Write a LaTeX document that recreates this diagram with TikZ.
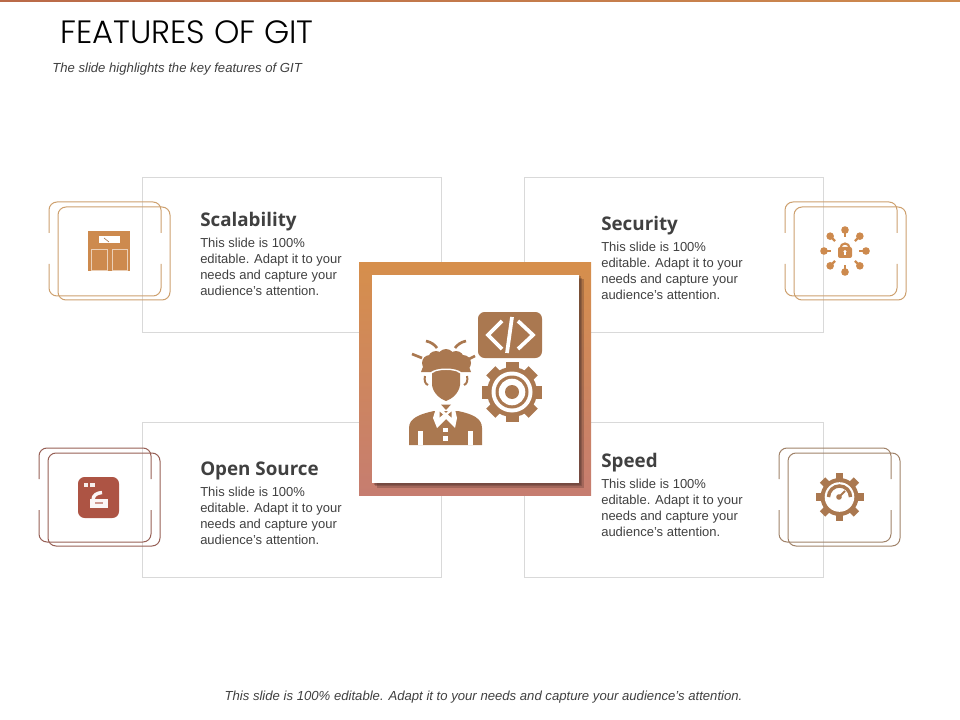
\documentclass[tikz,border=0pt]{standalone}
\usepackage{fontspec}
\setmainfont{Liberation Sans}
\newfontfamily\titleFont[UprightFont={* Light}]{Poppins}
\newfontfamily\headFont{Open Sans}
\usetikzlibrary{positioning}
\definecolor{cardGrey}{RGB}{217,217,217}
\definecolor{bodyGrey}{RGB}{64,64,64}
\definecolor{orangeIcon}{RGB}{205,138,78}
\definecolor{redIcon}{RGB}{173,84,68}
\definecolor{brownIcon}{RGB}{170,120,80}
\definecolor{tanFrame}{RGB}{205,160,110}
\definecolor{redFrame}{RGB}{150,95,85}
\definecolor{brownFrame}{RGB}{160,130,105}
\definecolor{frameTop}{RGB}{214,143,76}
\definecolor{frameBottom}{RGB}{198,125,112}
\definecolor{shadowBrown}{RGB}{70,45,40}
\tikzstyle{cardBox} = [rectangle, draw=cardGrey, line width=0.6pt, minimum width=224.25pt, minimum height=116.25pt]
\tikzstyle{headText} = [inner sep=0pt, anchor=west, text=bodyGrey, text height=10pt, text depth=3.5pt, font=\headFont\bfseries\fontsize{14.1}{16}\selectfont]
\tikzstyle{bodyText} = [inner sep=0pt, align=left, text=bodyGrey, font=\fontsize{9.75}{12}\selectfont]
\tikzstyle{noteText} = [inner sep=0pt, text=bodyGrey, font=\itshape\fontsize{9.85}{12}\selectfont]
\tikzstyle{iconLine} = [line width=0.75pt, rounded corners=6pt]
\tikzstyle{whiteLine} = [draw=white, line width=2.8pt]
\tikzstyle{softShadow} = [fill=shadowBrown, opacity=0.28]
\newcommand{\iconFrame}[3]{
  \draw [iconLine, #3] (#1,#2+31) -- (#1,#2) -- (#1+112,#2) -- (#1+112,#2+31);
  \draw [iconLine, #3] (#1+112,#2+62) -- (#1+112,#2+94) -- (#1,#2+94) -- (#1,#2+62);
  \draw [iconLine, #3] (#1+9,#2+5) rectangle (#1+121,#2+98);
}
\newcommand{\gearShape}[6]{
  \foreach \a in {0,45,...,315} {
    \fill [#6, rotate around={\a:(#1,#2)}] (#1-#5,#2-#3) rectangle (#1+#5,#2);
  }
  \fill [#6] (#1,#2) circle (#4);
}
\newcommand{\bodyLines}{This slide is 100\%\\editable. Adapt it to your\\needs and capture your\\audience's attention.}
\begin{document}
\begin{tikzpicture}[x=0.75pt, y=-0.75pt]
  \useasboundingbox (0,0) rectangle (960,720);
  \shade [left color=redIcon!60!orangeIcon, right color=orangeIcon] (0,0) rectangle (960,2);

  \node (scalabilityBox) [cardBox] at (291.5,254.5) {};
  \node (securityBox) [cardBox] at (674,254.5) {};
  \node (openBox) [cardBox] at (291.5,499.5) {};
  \node (speedBox) [cardBox] at (674,499.5) {};

  \node (title) [inner sep=0pt, anchor=west, font=\titleFont\fontsize{24.2}{26}\selectfont] at (60,32) {FEATURES OF GIT};
  \node (subtitle) [noteText, anchor=west] at (52,69) {The slide highlights the key features of GIT};
  \node (footer) [noteText] at (483.5,697) {This slide is 100\% editable. Adapt it to your needs and capture your audience's attention.};

  \node (scalabilityHead) [headText] at (200,222) {Scalability};
  \node (scalabilityText) [bodyText, below=5pt of scalabilityHead.south west, anchor=north west] {\bodyLines};
  \node (securityHead) [headText] at (601,226) {Security};
  \node (securityText) [bodyText, below=5pt of securityHead.south west, anchor=north west] {\bodyLines};
  \node (openHead) [headText] at (200,471) {Open Source};
  \node (openText) [bodyText, below=5pt of openHead.south west, anchor=north west] {\bodyLines};
  \node (speedHead) [headText] at (601,463) {Speed};
  \node (speedText) [bodyText, below=5pt of speedHead.south west, anchor=north west] {\bodyLines};

  \iconFrame{49}{202}{tanFrame}
  \iconFrame{39}{448}{redFrame}
  \iconFrame{785}{202}{tanFrame}
  \iconFrame{779}{448}{brownFrame}

  \fill [orangeIcon] (88,231) rectangle (130,271);
  \fill [white] (99,236) rectangle (120,243);
  \draw [brownIcon, line width=0.5pt] (104,238) -- (109,242);
  \draw [white!60!orangeIcon, line width=0.6pt] (91,249) rectangle (107,270);
  \draw [white!60!orangeIcon, line width=0.6pt] (112,249) rectangle (127,270);

  \fill [redIcon, rounded corners=5pt] (78,477) rectangle (119,518);
  \fill [white!90!redIcon] (84,483) rectangle (88,487);
  \fill [white!90!redIcon] (90,483) rectangle (95,487);
  \fill [white!95!redIcon] (90,499) -- (108,499) -- (108,508) -- (90,508) -- cycle;
  \draw [white!95!redIcon, line width=2.6pt] (93,500) .. controls (93,495) and (97,493) .. (102,492.5);
  \draw [redIcon!60!white, line width=1.2pt] (95,503) -- (103,503);

  \foreach \a in {0,45,...,315} {
    \fill [orangeIcon, rotate around={\a:(845,251)}] (866,251) circle (3.8);
    \draw [orangeIcon, line width=1.8pt, rotate around={\a:(845,251)}] (866,251) -- (859,251);
  }
  \fill [orangeIcon, rounded corners=1.5pt] (838,247) rectangle (852,258);
  \draw [orangeIcon, line width=1.6pt] (840.5,248) arc (180:360:4.5);
  \fill [white] (845,251.5) circle (1.6);
  \fill [white] (844.2,251.5) rectangle (845.8,255.5);

  \gearShape{839.5}{497}{24}{19}{3.8}{brownIcon}
  \fill [white] (839.5,497) circle (14.8);
  \draw [brownIcon, line width=2.6pt] (828.5,497) arc (180:360:11);
  \fill [brownIcon] (839,497) circle (2.8);
  \draw [brownIcon, line width=1.4pt] (839,497) -- (845,491);

  \node (mainFrame) [rectangle, minimum size=174pt, inner sep=0pt, top color=frameTop, bottom color=frameBottom] at (475,379) {};
  \fill [softShadow] (373.5,276.5) rectangle (580.5,484.5);
  \fill [softShadow] (375,278) rectangle (582,486);
  \fill [softShadow] (376.5,279.5) rectangle (583.5,487.5);
  \node (mainPanel) [rectangle, fill=white, minimum width=155.25pt, minimum height=156pt, inner sep=0pt] at (475.5,379) {};

  \fill [brownIcon, rounded corners=5pt] (478,312) rectangle (542,358);
  \draw [whiteLine] (502,321) -- (488,335) -- (502,349);
  \draw [whiteLine] (518,321) -- (533,335) -- (518,349);
  \draw [whiteLine] (512,317) -- (507,353);

  \gearShape{512}{392}{30}{25}{6.5}{brownIcon}
  \fill [white] (512,392) circle (20.5);
  \fill [brownIcon] (512,392) circle (16.5);
  \fill [white] (512,392) circle (13.3);
  \fill [brownIcon] (512,392) circle (7);

  \fill [brownIcon] (409,445) -- (409,428) .. controls (409,418) and (420,414) .. (434,411) -- (458,411) .. controls (472,414) and (482,418) .. (482,428) -- (482,445) -- cycle;
  \fill [white] (418,431) rectangle (423,445);
  \fill [white] (468,431) rectangle (473,445);
  \fill [white] (437,405) -- (446,413) -- (454,405) -- (457,418) -- (455,428) -- (446,419) -- (437,428) -- (433,418) -- cycle;
  \fill [brownIcon] (439.5,411.5) -- (439.5,417.5) -- (443,414.5) -- cycle;
  \fill [brownIcon] (451.5,411.5) -- (451.5,417.5) -- (448,414.5) -- cycle;
  \fill [brownIcon] (441,404.5) -- (446,410) -- (451,404.5) -- cycle;
  \fill [white] (443,428) rectangle (448,432);
  \fill [white] (443,436) rectangle (448,441);
  \fill [brownIcon] (430,363) circle (8);
  \fill [brownIcon] (436,359) circle (8);
  \fill [brownIcon] (446,357) circle (8);
  \fill [brownIcon] (456,359) circle (8);
  \fill [brownIcon] (463,363) circle (8);
  \fill [brownIcon] (421,372) .. controls (423,366) and (425,362) .. (430,360) -- (462,360) .. controls (467,362) and (469,366) .. (471,372) -- cycle;
  \draw [white, line width=1.1pt] (431,373) .. controls (436,368) and (456,368) .. (461,373);
  \fill [brownIcon] (432,373.5) .. controls (437,369.5) and (455,369.5) .. (460,373.5) -- (460,385) .. controls (459,393) and (452,399) .. (446,401) .. controls (440,399) and (433,393) .. (432,385) -- cycle;
  \draw [brownIcon, line width=1.5pt] (425,376) .. controls (424,380) and (425,384) .. (428,385);
  \draw [brownIcon, line width=1.5pt] (467,376) .. controls (468,380) and (467,384) .. (464,385);
  \draw [brownIcon, line width=2pt] (412,354) -- (422,358);
  \draw [brownIcon, line width=2pt] (426,341) .. controls (431,342) and (435,345) .. (437,348);
  \draw [brownIcon, line width=2pt] (466,341) .. controls (461,342) and (457,345) .. (455,348);
  \draw [brownIcon, line width=2pt] (475,356) -- (469,359);
\end{tikzpicture}
\end{document}
